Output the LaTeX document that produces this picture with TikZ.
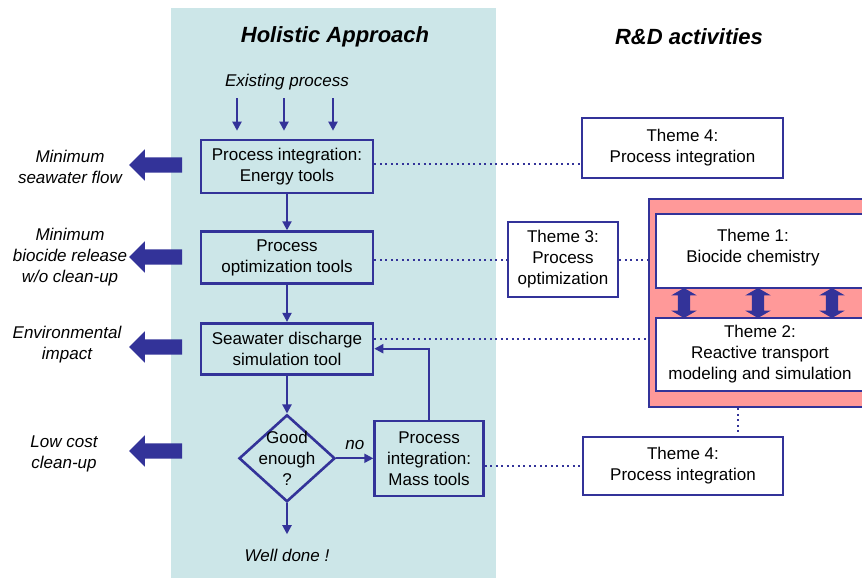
\documentclass[tikz,border=0pt]{standalone}
\usepackage{fontspec}
\setmainfont{Liberation Sans}
\usetikzlibrary{positioning,arrows.meta,shapes.geometric,shapes.arrows,calc}
\definecolor{flowblue}{RGB}{51,51,153}
\definecolor{panelblue}{RGB}{204,230,232}
\definecolor{rdpink}{RGB}{255,153,153}
\tikzset{
    txt/.style = {
        font=\fontsize{17}{21}\selectfont,
        align=center,
        },
    goal/.style = {
        txt,
        font=\fontsize{17}{21}\selectfont\itshape,
        },
    title/.style = {
        font=\fontsize{22}{26}\selectfont\bfseries\itshape,
        },
    tool/.style = {
        txt,
        draw=flowblue,
        line width=2.6pt,
        inner sep=0pt,
        },
    theme/.style = {
        tool,
        fill=white,
        },
    flow/.style = {
        draw=flowblue,
        line width=2pt,
        -{Triangle[length=9pt,width=9pt]},
        },
    link/.style = {
        draw=flowblue,
        line width=2pt,
        dash pattern=on 2pt off 3.5pt,
        },
    result/.style = {
        single arrow,
        rotate=180,
        fill=flowblue,
        inner xsep=0pt,
        inner ysep=7.5pt,
        minimum height=53pt,
        minimum width=31pt,
        single arrow head extend=8pt,
        },
    exchange/.style = {
        double arrow,
        rotate=90,
        fill=flowblue,
        inner xsep=0pt,
        inner ysep=6pt,
        minimum height=30pt,
        minimum width=25pt,
        double arrow head extend=6.5pt,
        double arrow tip angle=120,
        }
}
\begin{document}
\begin{tikzpicture}[x=1pt, y=-1pt]
    \clip (0,0) rectangle (862,578);
    \fill[white] (0,0) rectangle (862,578);
    \fill[panelblue] (171,8) rectangle (496,578);

    \node[title] (holistic) at (335,37) {Holistic Approach};
    \node[title] (rnd title) at (689,37) {R\&D activities};
    \node[goal] (existing) at (287,82) {Existing process};

    % flowchart column
    \node[tool, minimum width=172pt, minimum height=53pt] (energy) at (287,166.5) {Process integration:\\Energy tools};
    \node[tool, minimum width=172pt, minimum height=52pt, below=36pt of energy] (optim) {Process\\optimization tools};
    \node[tool, minimum width=172pt, minimum height=51pt, below=37pt of optim] (discharge) {Seawater discharge\\simulation tool};
    \node[tool, diamond, minimum width=96pt, minimum height=87pt, inner sep=-16pt, below=38pt of discharge] (check) {Good\\enough\\?};
    \node[tool, minimum width=109pt, minimum height=75pt, right=37pt of check] (mass) {Process\\integration:\\Mass tools};
    \node[goal] (done) at (287,555) {Well done !};

    % results
    \node[result] (out1) at (159.5,165) {};
    \node[result] (out2) at (159.5,257) {};
    \node[result] (out3) at (159.5,347) {};
    \node[result] (out4) at (159.5,451) {};
    \node[goal] (goal1) at (70,167) {Minimum\\seawater flow};
    \node[goal] (goal2) at (70,257.5) {Minimum\\biocide release\\w/o clean-up};
    \node[goal] (goal3) at (67,345) {Environmental\\impact};
    \node[goal] (goal4) at (64,454) {Low cost\\clean-up};

    % R&D themes
    \node[theme, minimum width=201pt, minimum height=60pt] (theme4a) at (682.5,148) {Theme 4:\\Process integration};
    \node[theme, minimum width=110pt, minimum height=75pt] (theme3) at (563,259.5) {Theme 3:\\Process\\optimization};
    \node[tool, fill=rdpink, minimum width=240pt, minimum height=208pt] (cluster) at (769,303) {};
    \node[theme, minimum width=230pt, minimum height=74pt] (theme1) at (771,251) {};
    \node[txt] (theme1 text) at (753,248) {Theme 1:\\Biocide chemistry};
    \node[theme, minimum width=230pt, minimum height=73pt] (theme2) at (771,354.5) {};
    \node[txt] (theme2 text) at (760,354) {Theme 2:\\Reactive transport\\modeling and simulation};
    \node[theme, minimum width=200pt, minimum height=58pt] (theme4b) at (683,466) {Theme 4:\\Process integration};
    \node[exchange] (swap1) at (684,303) {};
    \node[exchange] (swap2) at (758,303) {};
    \node[exchange] (swap3) at (832,303) {};
    \coordinate (drop) at (738,0);

    \foreach \dx in {-50,-3,46}
        \draw[flow] ([xshift=\dx pt, yshift=-5pt]existing.south) -- ([xshift=\dx pt, yshift=8pt]energy.north);
    \draw[flow] (energy) -- (optim);
    \draw[flow] (optim) -- (discharge);
    \draw[flow] (discharge) -- (check);
    \draw[flow] (check) -- node[goal, above=4pt] (no) {no} (mass);
    \draw[flow] (mass.north) |- (discharge.east);
    \draw[flow] (check.south) -- ([yshift=11pt]done.north);

    \draw[link] ([yshift=3pt]energy.east) -- ([yshift=3pt]energy.east -| theme4a.west);
    \draw[link] (theme3.west -| optim.east) -- (theme3.west);
    \draw[link] (theme3.east) -- (theme3.east -| cluster.west);
    \draw[link] ([yshift=10pt]discharge.east) -- ([yshift=10pt]discharge.east -| cluster.west);
    \draw[link] (theme4b.west -| mass.east) -- (theme4b.west);
    \draw[link] (drop |- cluster.south) -- (drop |- theme4b.north);
\end{tikzpicture}
\end{document}
